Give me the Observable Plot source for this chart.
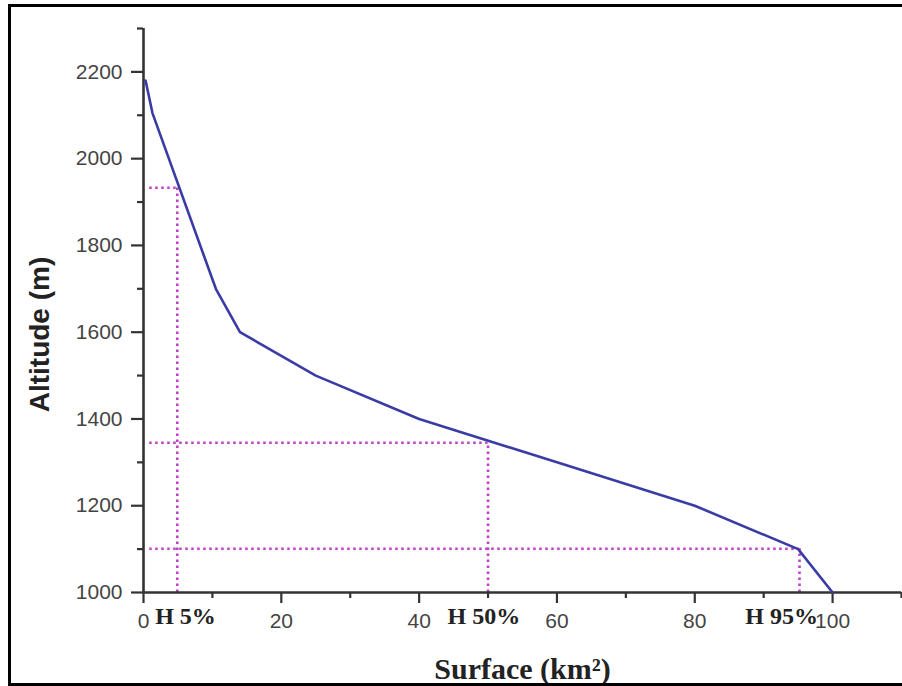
<!DOCTYPE html>
<html>
<head>
<meta charset="utf-8">
<script src="https://cdn.jsdelivr.net/npm/d3@7"></script>
<script src="https://cdn.jsdelivr.net/npm/@observablehq/plot@0.6"></script>
<style>
  html, body { margin: 0; padding: 0; background: #fff; overflow: hidden; }
  #wrap { position: relative; width: 902px; height: 686px; }
  #border { position: absolute; left: 8px; top: 4px; width: 900px; height: 682px;
    box-sizing: border-box; border-top: 3px solid #000; border-left: 3px solid #000;
    border-bottom: 3px solid #000; pointer-events: none; }
</style>
</head>
<body>
<div id="wrap"><div id="chart"></div><div id="border"></div></div>
<script>
// Hypsometric curve
const surface  = [0.3, 1.3, 10.5, 14, 25, 40, 60, 80, 95, 100];
const altitude = [2180, 2105, 1700, 1600, 1500, 1400, 1300, 1200, 1100, 1000];

// Characteristic altitudes (H 5%, H 50%, H 95%)
const hNames    = ["H 5%", "H 50%", "H 95%"];
const hSurface  = [4.9, 50, 95.2];
const hAltitude = [1933, 1345, 1101];
const hLabelX   = [6.1, 49.4, 92.6];

// Ticks
const xMajor = [0, 20, 40, 60, 80, 100];
const xMinor = [10, 30, 50, 70, 90, 110];
const yMajor = [1000, 1200, 1400, 1600, 1800, 2000, 2200];
const yMinor = [1100, 1300, 1500, 1700, 1900, 2100, 2300];

const curve = surface.map((s, i) => ({s, a: altitude[i]}));
const hs = hNames.map((n, i) => ({n, s: hSurface[i], a: hAltitude[i], lx: hLabelX[i]}));

const axisColor = "#333";
const tickFont = "'Liberation Sans', Arial, sans-serif";
const dotted = "#c040c8";

const chart = Plot.plot({
  width: 902,
  height: 686,
  marginLeft: 143,
  marginRight: 1,
  marginTop: 28,
  marginBottom: 94,
  style: {fontFamily: tickFont, background: "transparent", overflow: "visible"},
  x: {domain: [0, 110]},
  y: {domain: [1000, 2300]},
  marks: [
    // guide lines
    Plot.ruleY(hs, {y: "a", x1: 0.9, x2: "s", stroke: dotted, strokeWidth: 2.6, strokeDasharray: "2.5,3.5"}),
    Plot.ruleX(hs, {x: "s", y1: 1000, y2: "a", stroke: dotted, strokeWidth: 2.6, strokeDasharray: "2.5,3.5"}),
    // axes
    Plot.axisY({ticks: yMajor, tickSize: 12, tickPadding: 9, stroke: axisColor, strokeWidth: 2.2,
      fill: "#444", fontSize: 21, tickFormat: d => String(d), label: null}),
    Plot.axisY({ticks: yMinor, tickSize: 6, stroke: axisColor, strokeWidth: 2.2, text: null, label: null}),
    Plot.axisX({ticks: xMajor, tickSize: 11, tickPadding: 10, stroke: axisColor, strokeWidth: 2.2,
      fill: "#444", fontSize: 21, label: null}),
    Plot.axisX({ticks: xMinor, tickSize: 6, stroke: axisColor, strokeWidth: 2.2, text: null, label: null}),
    Plot.ruleX([0], {y1: 1000, y2: 2300, stroke: axisColor, strokeWidth: 2.6}),
    Plot.ruleY([1000], {x1: 0, x2: 110, stroke: axisColor, strokeWidth: 2.6}),
    // curve
    Plot.line(curve, {x: "s", y: "a", stroke: "#3b3ba6", strokeWidth: 2.6}),
    // H labels
    Plot.text(hs, {x: "lx", y: () => 1000, text: "n", dy: 24, lineAnchor: "middle",
      fontFamily: "'Liberation Serif', 'Times New Roman', serif", fontWeight: "bold",
      fontSize: 24, fill: "#222"}),
    // axis titles
    Plot.text(["Altitude (m)"], {frameAnchor: "left", rotate: -90, dx: -103, dy: 24,
      textAnchor: "middle", lineAnchor: "middle", fontWeight: "bold", fontSize: 28,
      fontFamily: tickFont, fill: "#222"}),
    Plot.text(["Surface (km²)"], {frameAnchor: "bottom", dy: 77, textAnchor: "middle",
      lineAnchor: "middle", fontWeight: "bold", fontSize: 30,
      fontFamily: "'Liberation Serif', 'Times New Roman', serif", fill: "#222"})
  ]
});
document.getElementById("chart").appendChild(chart);
</script>
</body>
</html>
